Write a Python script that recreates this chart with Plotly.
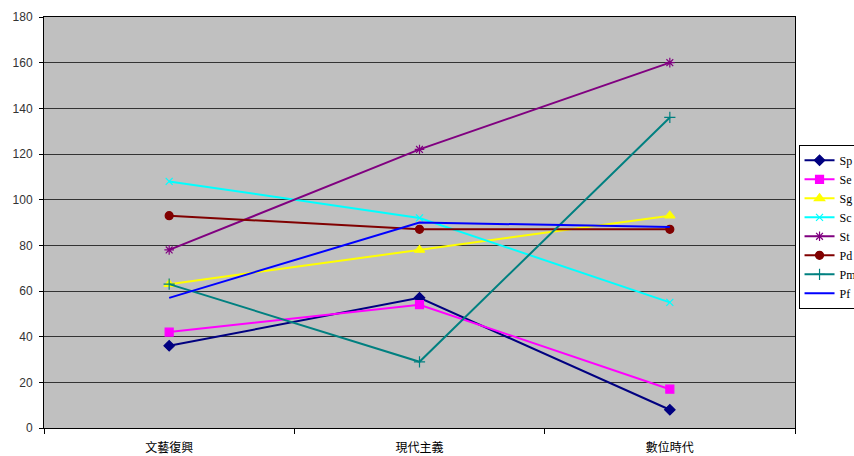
import plotly.graph_objects as go

# Three eras on the category axis
categories = ["文藝復興", "現代主義", "數位時代"]

# Series values per era
Sp = [36, 57, 8]
Se = [42, 54, 17]
Sg = [63, 78, 93]
Sc = [108, 92, 55]
St = [78, 122, 160]
Pd = [93, 87, 87]
Pm = [63, 29, 136]
Pf = [57, 90, 88]

y_ticks = [0, 20, 40, 60, 80, 100, 120, 140, 160, 180]

series = [
    ("Sp", Sp, "#000080", "diamond", 8),
    ("Se", Se, "#FF00FF", "square", 8),
    ("Sg", Sg, "#FFFF00", "triangle-up", 9),
    ("Sc", Sc, "#00FFFF", "x-thin", 7),
    ("St", St, "#800080", "asterisk-open", 8),
    ("Pd", Pd, "#800000", "circle", 8),
    ("Pm", Pm, "#008080", "cross-thin", 8),
    ("Pf", Pf, "#0000FF", None, 0),
]

fig = go.Figure()
for name, vals, color, sym, size in series:
    if sym is None:
        fig.add_trace(go.Scatter(
            x=categories, y=vals, name=name, mode="lines",
            line=dict(color=color, width=2),
        ))
    else:
        fig.add_trace(go.Scatter(
            x=categories, y=vals, name=name, mode="lines+markers",
            line=dict(color=color, width=2),
            marker=dict(symbol=sym, size=size, color=color,
                        line=dict(color=color, width=1.2)),
        ))

fig.update_layout(
    width=854, height=456,
    margin=dict(l=44, r=59, t=17, b=28, autoexpand=False),
    paper_bgcolor="white",
    plot_bgcolor="#C0C0C0",
    showlegend=True,
    legend=dict(
        x=1.0047, xanchor="left", y=0.689, yanchor="top",
        bgcolor="white", bordercolor="black", borderwidth=1,
        font=dict(family="Liberation Serif, Times New Roman, serif", size=12, color="black"),
        tracegroupgap=0, itemwidth=30,
    ),
    xaxis=dict(
        type="category", range=[-0.5, 2.5],
        showgrid=False, showline=True, linecolor="black", linewidth=1,
        mirror=True, ticks="outside", tickson="boundaries", ticklen=5,
        tickcolor="black", ticklabelstandoff=9,
        tickfont=dict(family="Noto Sans CJK TC", size=12, color="black"),
    ),
    yaxis=dict(
        range=[0, 180], tickvals=y_ticks,
        showgrid=True, gridcolor="#333333", gridwidth=1,
        showline=True, linecolor="black", linewidth=1, mirror=True,
        ticks="outside", ticklen=4, tickcolor="black", ticklabelstandoff=4,
        tickfont=dict(family="Liberation Sans, Arial, sans-serif", size=12, color="#333333"),
        zeroline=False,
    ),
)

fig.write_html("out.html")
